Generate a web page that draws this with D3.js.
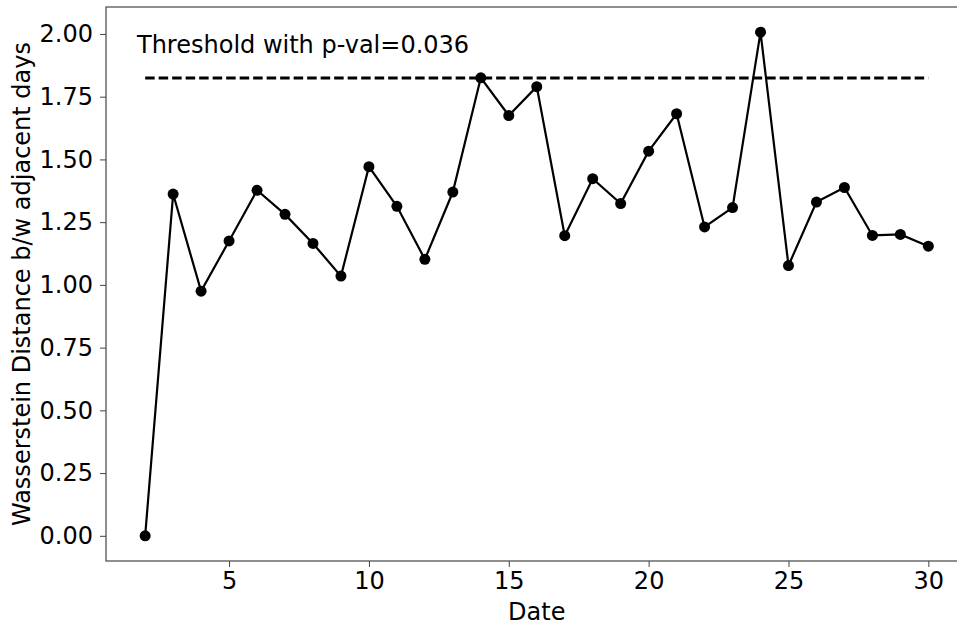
<!DOCTYPE html>
<html>
<head>
<meta charset="utf-8">
<script src="https://cdn.jsdelivr.net/npm/d3@7"></script>
<style>
  body { margin: 0; background: #fff; }
  text { font-family: "DejaVu Sans", sans-serif; fill: #000; }
</style>
</head>
<body>
<div class="chart"></div>
<script>
// data
const dates = [2, 3, 4, 5, 6, 7, 8, 9, 10, 11, 12, 13, 14, 15, 16, 17, 18, 19, 20, 21, 22, 23, 24, 25, 26, 27, 28, 29, 30];
const dist = [0.00, 1.362, 0.975, 1.175, 1.377, 1.281, 1.165, 1.035, 1.471, 1.313, 1.102, 1.370, 1.825, 1.675, 1.790,
  1.196, 1.423, 1.324, 1.533, 1.682, 1.231, 1.308, 2.007, 1.077, 1.330, 1.388, 1.197, 1.201, 1.154];
const threshold = 1.824;
const pval = "0.036";
const yTicks = [0, 0.25, 0.5, 0.75, 1.0, 1.25, 1.5, 1.75, 2.0];
const xTicks = [5, 10, 15, 20, 25, 30];

const W = 957, H = 626;
const pLeft = 106, pTop = 7, pBottom = 561, pRight = 967.5; // right spine falls outside the picture
const fs = '24px';

// matplotlib style 5% margins
const xmin = d3.min(dates), xmax = d3.max(dates);
const ymin = d3.min(dist), ymax = d3.max(dist);
const xpad = (xmax - xmin) * 0.05, ypad = (ymax - ymin) * 0.05;

const x = d3.scaleLinear().domain([xmin - xpad, xmax + xpad]).range([pLeft, pRight]);
const y = d3.scaleLinear().domain([ymin - ypad, ymax + ypad]).range([pBottom, pTop]);

const svg = d3.select('.chart').append('svg')
  .attr('width', W).attr('height', H);

// axes
const xAxis = svg.append('g')
  .attr('transform', `translate(0,${pBottom})`)
  .call(d3.axisBottom(x).tickValues(xTicks).tickFormat(d3.format('d')).tickSizeInner(6).tickSizeOuter(0).tickPadding(5));
const yAxis = svg.append('g')
  .attr('transform', `translate(${pLeft},0)`)
  .call(d3.axisLeft(y).tickValues(yTicks).tickFormat(d3.format('.2f')).tickSizeInner(6).tickSizeOuter(0).tickPadding(7));

[xAxis, yAxis].forEach(a => {
  a.select('.domain').remove();
  a.selectAll('line').attr('stroke', '#444').attr('stroke-width', 1);
  a.selectAll('text').style('font-size', fs).attr('fill', '#000');
});

// frame
svg.append('rect')
  .attr('x', pLeft).attr('y', pTop)
  .attr('width', pRight - pLeft).attr('height', pBottom - pTop)
  .attr('fill', 'none').attr('stroke', '#444').attr('stroke-width', 1.2);

// threshold line
svg.append('line')
  .attr('x1', x(xmin)).attr('x2', x(xmax))
  .attr('y1', y(threshold)).attr('y2', y(threshold))
  .attr('stroke', '#000').attr('stroke-width', 3)
  .attr('stroke-dasharray', '9.5,4');

svg.append('text')
  .attr('x', 137).attr('y', 53)
  .style('font-size', fs)
  .text('Threshold with p-val=' + pval);

// series
const line = d3.line().x((d, i) => x(dates[i])).y(d => y(d));
svg.append('path')
  .datum(dist)
  .attr('d', line)
  .attr('fill', 'none').attr('stroke', '#000').attr('stroke-width', 2.2);

svg.selectAll('circle.pt')
  .data(dist)
  .enter().append('circle')
  .attr('class', 'pt')
  .attr('cx', (d, i) => x(dates[i]))
  .attr('cy', d => y(d))
  .attr('r', 5.5)
  .attr('fill', '#000');

// labels
svg.append('text')
  .attr('x', (pLeft + pRight) / 2).attr('y', 620)
  .attr('text-anchor', 'middle')
  .style('font-size', fs)
  .text('Date');

svg.append('text')
  .attr('transform', `translate(30,${(pTop + pBottom) / 2}) rotate(-90)`)
  .attr('text-anchor', 'middle')
  .style('font-size', fs)
  .text('Wasserstein Distance b/w adjacent days');
</script>
</body>
</html>
